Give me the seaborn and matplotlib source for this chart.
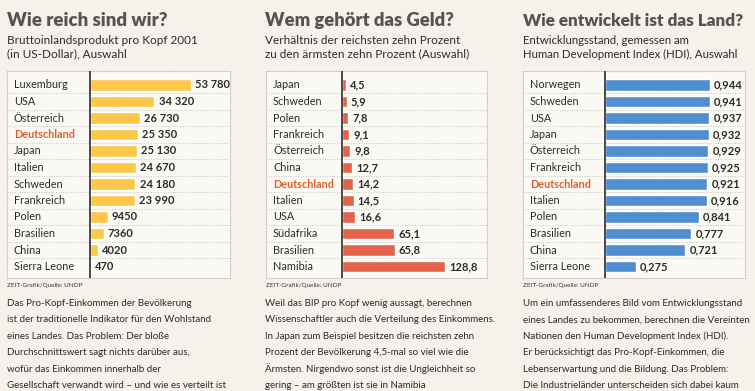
import matplotlib
matplotlib.use("Agg")
import matplotlib.pyplot as plt
import matplotlib.transforms as mtransforms
import seaborn as sns
import pandas as pd

# ---------------- data ----------------
titles = ["Wie reich sind wir?", "Wem gehört das Geld?", "Wie entwickelt ist das Land?"]
subtitles = [
    ["Bruttoinlandsprodukt pro Kopf 2001", "(in US-Dollar), Auswahl"],
    ["Verhältnis der reichsten zehn Prozent", "zu den ärmsten zehn Prozent (Auswahl)"],
    ["Entwicklungsstand, gemessen am", "Human Development Index (HDI), Auswahl"],
]
countries_gdp = ["Luxemburg", "USA", "Österreich", "Deutschland", "Japan", "Italien",
                 "Schweden", "Frankreich", "Polen", "Brasilien", "China", "Sierra Leone"]
gdp = [53780, 34320, 26730, 25350, 25130, 24670, 24180, 23990, 9450, 7360, 4020, 470]

countries_ratio = ["Japan", "Schweden", "Polen", "Frankreich", "Österreich", "China",
                   "Deutschland", "Italien", "USA", "Südafrika", "Brasilien", "Namibia"]
ratio = [4.5, 5.9, 7.8, 9.1, 9.8, 12.7, 14.2, 14.5, 16.6, 65.1, 65.8, 128.8]

countries_hdi = ["Norwegen", "Schweden", "USA", "Japan", "Österreich", "Frankreich",
                 "Deutschland", "Italien", "Polen", "Brasilien", "China", "Sierra Leone"]
hdi = [0.944, 0.941, 0.937, 0.932, 0.929, 0.925, 0.921, 0.916, 0.841, 0.777, 0.721, 0.275]

source = "ZEIT-Grafik/Quelle: UNDP"
bodies = [
    ["Das Pro-Kopf-Einkommen der Bevölkerung",
     "ist der traditionelle Indikator für den Wohlstand",
     "eines Landes. Das Problem: Der bloße",
     "Durchschnittswert sagt nichts darüber aus,",
     "wofür das Einkommen innerhalb der",
     "Gesellschaft verwandt wird – und wie es verteilt ist"],
    ["Weil das BIP pro Kopf wenig aussagt, berechnen",
     "Wissenschaftler auch die Verteilung des Einkommens.",
     "In Japan zum Beispiel besitzen die reichsten zehn",
     "Prozent der Bevölkerung 4,5-mal so viel wie die",
     "Ärmsten. Nirgendwo sonst ist die Ungleichheit so",
     "gering – am größten ist sie in Namibia"],
    ["Um ein umfassenderes Bild vom Entwicklungsstand",
     "eines Landes zu bekommen, berechnen die Vereinten",
     "Nationen den Human Development Index (HDI).",
     "Er berücksichtigt das Pro-Kopf-Einkommen, die",
     "Lebenserwartung und die Bildung. Das Problem:",
     "Die Industrieländer unterscheiden sich dabei kaum"],
]
highlight = "Deutschland"

# ---------------- style ----------------
sns.set_theme(style="white")
plt.rcParams["font.family"] = ["Lato", "DejaVu Sans"]

W, H = 755, 391
BG = "#f4f2ea"
BOX = "#faf9f4"
fig = plt.figure(figsize=(W / 100, H / 100), dpi=100, facecolor=BG)

def fx(x):
    return x / W

def fy(y):
    return 1 - y / H

def fmt_gdp(v):
    return f"{v:,}".replace(",", " ") if v >= 10000 else str(v)

def fmt1(v):
    return f"{v:.1f}".replace(".", ",")

def fmt3(v):
    return f"{v:.3f}".replace(".", ",")

# panel geometry in pixels: box left, box right, axis x, px for the max value
panels = [
    dict(names=countries_gdp, vals=gdp, fmt=fmt_gdp, color="#fdc84a",
         left=7, right=230, axis=90, maxpx=101, tx=7),
    dict(names=countries_ratio, vals=ratio, fmt=fmt1, color="#e2634a",
         left=266, right=487, axis=342, maxpx=103, tx=265),
    dict(names=countries_hdi, vals=hdi, fmt=fmt3, color="#4f8fd0",
         left=523, right=745, axis=605, maxpx=105, tx=523),
]
title_sizes = [13.4, 13.2, 12.3]
sub_sizes = [8.5, 8.5, 8.2]
top, bottom = 71, 278
row0, rowstep = 85, 16.5

for k, p in enumerate(panels):
    ax = fig.add_axes([fx(p["left"]), fy(bottom), fx(p["right"] - p["left"]), (bottom - top) / H])
    ax.set_facecolor(BOX)
    df = pd.DataFrame({"land": p["names"], "wert": p["vals"]})
    sns.barplot(data=df, y="land", x="wert", orient="h", color=p["color"],
                width=0.68, saturation=1, ax=ax, order=p["names"])
    scale = p["maxpx"] / max(p["vals"])
    ax.set_xlim(-(p["axis"] - p["left"]) / scale, (p["right"] - p["axis"]) / scale)
    ax.set_ylim((bottom - row0) / rowstep, -(row0 - top) / rowstep)
    ax.set_xticks([])
    ax.set_yticks([])
    ax.set_xlabel("")
    ax.set_ylabel("")
    for s in ax.spines.values():
        s.set_visible(True)
        s.set_color("#c9c6bd")
        s.set_linestyle((0, (1, 1.5)))
        s.set_linewidth(0.8)
    n = len(p["names"])
    for i in range(n - 1):
        ax.axhline(i + 0.5, color="#c9c6bd", lw=0.7, ls=(0, (1, 1.5)), zorder=0)
    ax.axvline(0, color="#3d3a37", lw=1.3, zorder=3)
    ax.bar_label(ax.containers[0], labels=[p["fmt"](v) for v in p["vals"]],
                 padding=3, fontsize=8.0, fontweight="bold", color="#2e2b28")
    trans = mtransforms.blended_transform_factory(ax.transAxes, ax.transData)
    for i, name in enumerate(p["names"]):
        hl = name == highlight
        ax.text(7 / (p["right"] - p["left"]), i, name, transform=trans, va="center", ha="left",
                fontsize=7.8, color="#e0602d" if hl else "#2e2b28",
                fontweight="bold" if hl else "normal")

    # texts
    fig.text(fx(p["tx"]), fy(26), titles[k], fontsize=title_sizes[k], fontweight="heavy",
             color="#58534e", ha="left", va="baseline")
    for j, line in enumerate(subtitles[k]):
        fig.text(fx(p["tx"]), fy(44 + 13.5 * j), line, fontsize=sub_sizes[k], color="#2e2b28",
                 ha="left", va="baseline")
    fig.text(fx(p["left"]), fy(287), source, fontsize=4.6, color="#3a3733",
             ha="left", va="baseline")
    for j, line in enumerate(bodies[k]):
        fig.text(fx(p["tx"]), fy(306 + 16.4 * j), line, fontsize=7.0, color="#2e2b28",
                 ha="left", va="baseline")

fig.savefig("out.png", dpi=100, facecolor=BG)
